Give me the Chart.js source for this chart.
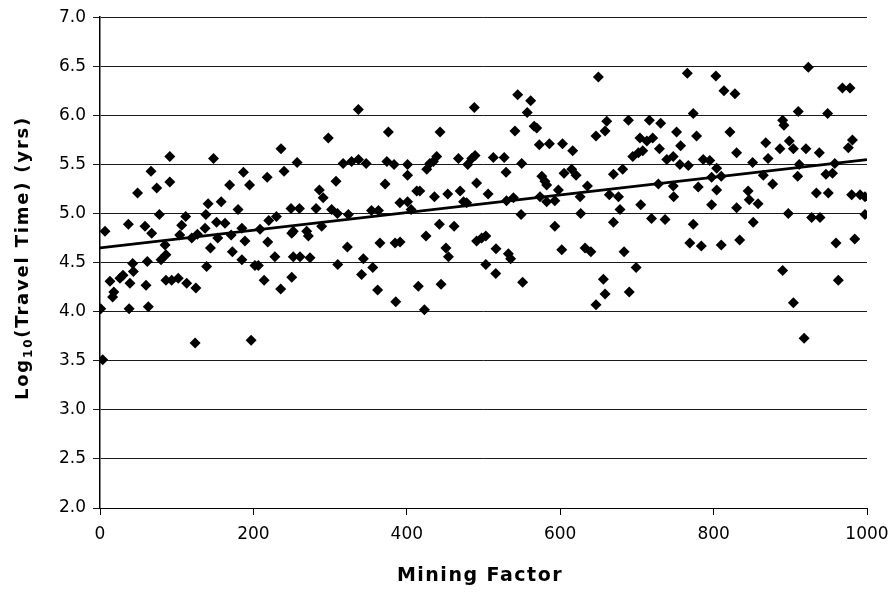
<!DOCTYPE html>
<html>
<head>
<meta charset="utf-8">
<script src="https://cdn.jsdelivr.net/npm/chart.js@4/dist/chart.umd.min.js"></script>
<style>
  html, body { margin: 0; padding: 0; background: #fff; }
  #wrap { width: 894px; height: 601px; position: relative; }
</style>
</head>
<body>
<div id="wrap"><canvas id="chart"></canvas></div>
<script>
'use strict';

// mining factor (x) and log10 travel time (y)
let miningFactor = [
    6.5, 1, 3.5, 13, 16.5, 18, 26, 30, 37, 38, 39, 42.6, 43.5, 49, 58.7, 60, 61.7, 63, 66.5, 67.4,
    74, 77.4, 79.6, 84.8, 86, 86, 91, 91, 93.5, 102, 104, 106.5, 111.7, 113, 119.6, 124, 125, 127,
    137, 138, 139, 141, 144, 148, 152, 153.5, 158, 163, 169, 171, 172.6, 180, 185, 185, 187, 189,
    195, 197, 202, 206.5, 208.7, 214, 218, 218.7, 220, 228, 230, 235.6, 236, 240,
    250, 249, 257, 260, 250, 252, 269.5, 271.7, 252, 260.8, 273.8, 281.7, 286, 291, 289, 297.7,
    302, 307.7, 309.6, 310, 317, 328, 337, 347, 323.8, 322.5, 336.9, 343.4, 341, 355.6, 354, 363,
    362, 365, 371.7, 376, 374, 383.4, 384.7, 391.2, 385.6, 391, 401, 401, 401, 405.6, 413, 417,
    415, 423, 425, 426, 430, 434.7, 439, 436, 443.4, 442.5, 444.7, 451, 454.3, 453.4, 461.7, 467.3,
    469.5, 474, 478, 479.5, 484.7, 489, 488, 491, 491,
    506, 497.6, 503, 503, 512.8, 527, 516.3, 516, 529.4, 532.4, 535.4, 530, 539, 544.6, 561.5, 557,
    541, 549.8, 549, 551, 566, 569.4, 572.8, 585.9, 603, 616.3, 576, 580, 582.4, 573.7, 582.4, 593,
    597.6, 593, 602, 605, 615, 620.7, 626, 626.7, 632.4, 640, 635.5, 646.7, 649.8, 660.7, 658.5,
    656.3, 658.5, 646.7, 664, 676, 669.4, 681.5, 669.4, 678, 683.3, 689, 690, 699, 694.6, 702,
    707.6, 704, 713, 720.6, 716.3, 705, 719, 736.7, 728, 729.4, 731, 739,
    765.7, 803, 813.5, 827.8, 773.5, 751.7, 757, 747.4, 756, 767, 777.8, 786.5, 795, 804, 797.4,
    810, 821.3, 830, 850.9, 868, 871, 864.8, 877, 886.5, 898.7, 890, 891.7, 910.4, 923.5, 948.7,
    968, 977.8, 904, 920.4, 937.8, 911.7, 909.6, 946.5, 955, 958, 975.6, 981, 747.4, 748, 780,
    804, 797.4, 830, 845, 846.5, 858, 934, 949.6, 980, 991, 997.4, 773.5, 769, 784, 810, 834,
    851.7, 897.4, 927.8, 938.7, 997.4, 959.6, 984, 890, 962.6, 904, 918
];

let travelTime = [
    4.82, 4.03, 3.51, 4.31, 4.15, 4.20, 4.34, 4.37, 4.89, 4.03, 4.29, 4.49, 4.41, 5.21, 4.87, 4.27, 4.51, 4.05, 5.43, 4.80,
    5.26, 4.99, 4.53, 4.68, 4.58, 4.32, 5.58, 5.32, 4.32, 4.34, 4.78, 4.88, 4.97, 4.29, 4.75, 3.68, 4.24, 4.79,
    4.85, 4.99, 4.46, 5.10, 4.65, 5.56, 4.91, 4.75, 5.12, 4.90, 5.29, 4.78, 4.61, 5.04, 4.85, 4.53, 5.42, 4.72,
    5.29, 3.71, 4.47, 4.47, 4.84, 4.32, 5.37, 4.71, 4.93, 4.56, 4.97, 4.23, 5.66, 5.43,
    4.35, 5.05, 5.52, 5.05, 4.80, 4.82, 4.82, 4.77, 4.56, 4.56, 4.55, 5.05, 5.24, 5.16, 4.87, 5.77,
    5.04, 5.33, 5.00, 4.48, 5.51, 5.53, 5.55, 5.51, 4.99, 4.66, 6.06, 4.54, 4.38, 4.45, 5.03, 5.03,
    4.22, 4.70, 5.30, 5.83, 5.53, 5.50, 4.70, 4.71, 4.10, 5.11, 5.12, 5.50, 5.39, 5.04, 5.23, 5.23,
    4.26, 4.02, 4.77, 5.45, 5.51, 5.53, 5.58, 5.17, 5.83, 4.89, 4.28, 4.65, 4.56, 5.20, 4.87, 5.56,
    5.23, 5.12, 5.11, 5.50, 5.56, 5.59, 6.08, 5.31, 4.72,
    5.20, 4.75, 4.77, 4.48, 5.57, 5.57, 4.64, 4.39, 5.42, 4.59, 4.54, 5.13, 5.16, 6.21, 6.15, 6.03,
    5.84, 5.51, 4.99, 4.30, 5.89, 5.87, 5.70, 5.71, 5.71, 5.64, 5.38, 5.33, 5.29, 5.17, 5.12, 5.13,
    5.24, 4.87, 4.63, 5.41, 5.45, 5.39, 5.17, 5.00, 4.65, 4.61, 5.28, 5.79, 6.39, 5.94, 5.84,
    4.33, 4.18, 4.07, 5.19, 5.17, 5.40, 5.45, 4.91, 5.04, 4.61, 5.95, 4.20, 4.45, 5.58, 5.62,
    5.64, 5.77, 5.74, 5.77, 5.95, 5.09, 4.95, 4.94, 5.30, 5.66, 5.92, 5.55,
    6.43, 6.40, 6.25, 6.22, 6.02, 5.83, 5.69, 5.58, 5.50, 5.49, 5.79, 5.55, 5.54, 5.46, 5.37,
    5.38, 5.83, 5.62, 5.52, 5.72, 5.56, 5.39, 5.30, 5.66, 5.74, 5.95, 5.90, 6.04, 6.49, 6.02,
    6.28, 6.28, 5.66, 5.66, 5.62, 5.50, 5.38, 5.40, 5.41, 5.51, 5.67, 5.75, 5.28, 5.17, 5.27,
    5.24, 5.09, 5.06, 5.23, 5.14, 5.10, 5.21, 5.21, 5.19, 5.19, 5.17, 4.89, 4.70, 4.67, 4.68, 4.73,
    4.91, 5.00, 4.96, 4.96, 4.99, 4.70, 4.74, 4.42, 4.32, 4.09, 3.73
];

// linear trend line end points
let trendX = [0, 1000];
let trendY = [4.65, 5.55];

let xTicks = [0, 200, 400, 600, 800, 1000];
let yTicks = [2.0, 2.5, 3.0, 3.5, 4.0, 4.5, 5.0, 5.5, 6.0, 6.5, 7.0];

let xTitle = 'Mining Factor';
let yTitleParts = ['Log', '10', '(Travel Time) (yrs)'];

function toPoints(xs, ys) {
    return xs.map(function (x, i) { return { x: x, y: ys[i] }; });
}

// axis titles are drawn by hand so the "10" can be a real subscript
let axisTitles = {
    id: 'axisTitles',
    afterDraw: function (chart) {
        let ctx = chart.ctx;
        let area = chart.chartArea;
        let big = 'bold 19px "DejaVu Sans"';
        let small = 'bold 12px "DejaVu Sans"';

        ctx.save();
        ctx.fillStyle = '#000';
        ctx.letterSpacing = '1.5px';
        ctx.textBaseline = 'alphabetic';

        ctx.font = big;
        ctx.textAlign = 'center';
        ctx.fillText(xTitle, 480, 581);

        ctx.textAlign = 'left';
        ctx.letterSpacing = '1.8px';
        big = 'bold 18px "DejaVu Sans"';
        ctx.font = big;
        let w0 = ctx.measureText(yTitleParts[0]).width;
        let w2 = ctx.measureText(yTitleParts[2]).width;
        ctx.font = small;
        let w1 = ctx.measureText(yTitleParts[1]).width;
        let total = w0 + w1 + w2;

        ctx.translate(28, 258);
        ctx.rotate(-Math.PI / 2);
        let pos = -total / 2;
        ctx.font = big;
        ctx.fillText(yTitleParts[0], pos, 0);
        pos += w0;
        ctx.font = small;
        ctx.fillText(yTitleParts[1], pos, 4);
        pos += w1;
        ctx.font = big;
        ctx.fillText(yTitleParts[2], pos, 0);
        ctx.restore();
    }
};

function drawChart() {
    let ctx = document.getElementById('chart').getContext('2d');

    new Chart(ctx, {
        type: 'scatter',
        data: {
            datasets: [
                {
                    type: 'line',
                    data: toPoints(trendX, trendY),
                    borderColor: '#000',
                    borderWidth: 2.8,
                    pointRadius: 0,
                    fill: false,
                    order: 0
                },
                {
                    data: toPoints(miningFactor, travelTime),
                    pointStyle: 'rectRot',
                    pointRadius: 5.5,
                    pointHoverRadius: 5.5,
                    backgroundColor: '#000',
                    borderColor: '#000',
                    borderWidth: 0,
                    order: 1
                }
            ]
        },
        options: {
            responsive: true,
            maintainAspectRatio: false,
            animation: false,
            events: [],
            layout: { padding: { top: 15, right: 27, left: 0, bottom: 0 } },
            plugins: {
                legend: { display: false },
                tooltip: { enabled: false }
            },
            scales: {
                x: {
                    type: 'linear',
                    min: xTicks[0],
                    max: xTicks[xTicks.length - 1],
                    afterFit: function (s) {
                        s.height = 93;
                        s.paddingLeft = 0;
                        s.paddingRight = 0;
                    },
                    afterBuildTicks: function (s) {
                        s.ticks = xTicks.map(function (v) { return { value: v }; });
                    },
                    ticks: {
                        color: '#000',
                        font: { family: '"DejaVu Sans"', size: 17 },
                        padding: 9,
                        maxRotation: 0,
                        callback: function (v) { return String(v); }
                    },
                    grid: {
                        drawOnChartArea: false,
                        drawTicks: true,
                        tickLength: 7,
                        color: '#000'
                    },
                    border: { display: true, color: '#000', width: 1 }
                },
                y: {
                    type: 'linear',
                    min: yTicks[0],
                    max: yTicks[yTicks.length - 1],
                    afterFit: function (s) { s.width = 100; },
                    afterBuildTicks: function (s) {
                        s.ticks = yTicks.map(function (v) { return { value: v }; });
                    },
                    ticks: {
                        color: '#000',
                        font: { family: '"DejaVu Sans"', size: 17 },
                        padding: 7,
                        callback: function (v) { return Number(v).toFixed(1); }
                    },
                    grid: {
                        drawTicks: true,
                        tickLength: 7,
                        color: '#1a1a1a',
                        lineWidth: 1
                    },
                    border: { display: true, color: '#000', width: 1.5 }
                }
            }
        },
        plugins: [axisTitles]
    });
}

drawChart();
</script>
</body>
</html>
